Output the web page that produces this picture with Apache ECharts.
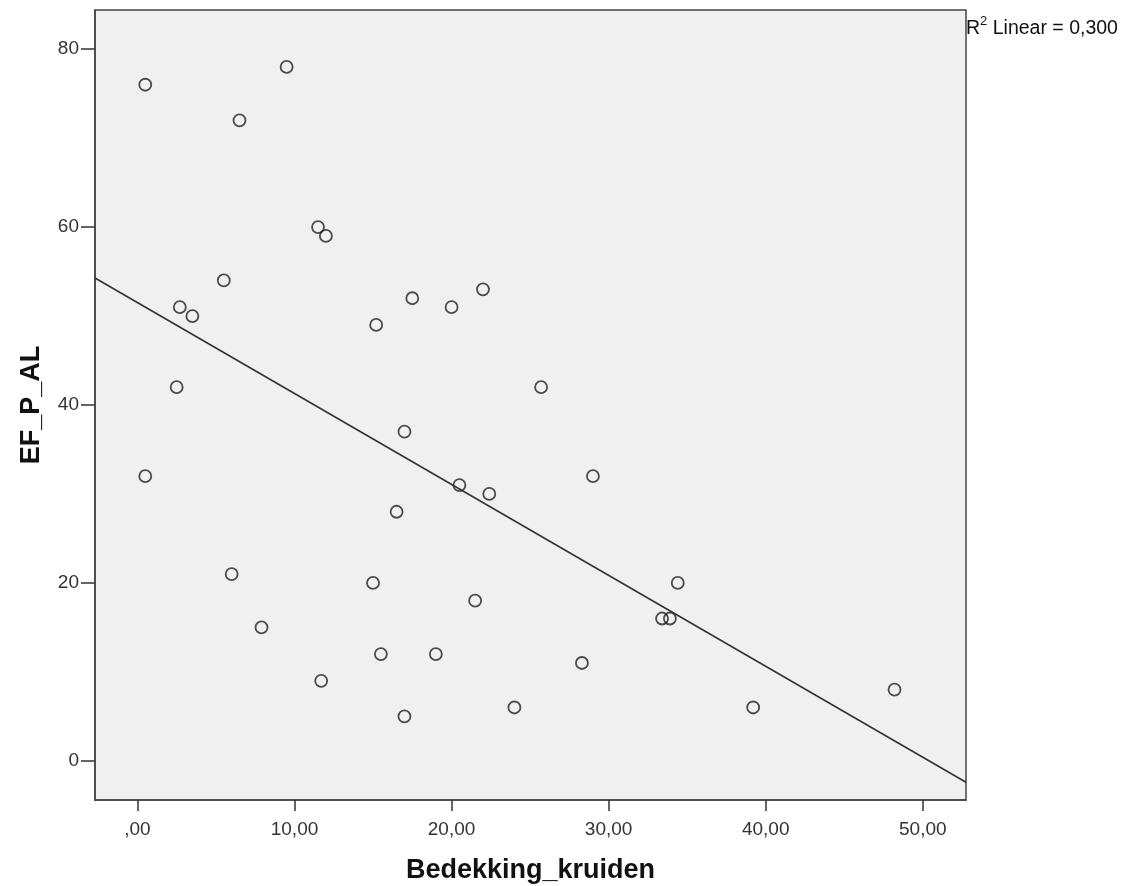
<!DOCTYPE html>
<html>
<head>
<meta charset="utf-8">
<script src="https://cdn.jsdelivr.net/npm/echarts@6/dist/echarts.min.js"></script>
<style>html,body{margin:0;padding:0;background:#fff}#c{width:1128px;height:886px}</style>
</head>
<body>
<div id="c"></div>
<script>
// Bedekking_kruiden (x) values
var bedekking = [0.5, 9.5, 6.5, 11.5, 12.0, 5.5, 2.7, 3.5, 15.2, 17.5, 20.0, 22.0, 25.7, 2.5, 17.0, 0.5, 20.5, 22.4, 29.0, 16.5, 6.0, 15.0, 21.5, 34.4, 33.4, 33.9, 7.9, 15.5, 19.0, 28.3, 11.7, 17.0, 24.0, 39.2, 48.2];
// EF_P_AL (y) values
var efpal = [76, 78, 72, 60, 59, 54, 51, 50, 49, 52, 51, 53, 42, 42, 37, 32, 31, 30, 32, 28, 21, 20, 18, 20, 16, 16, 15, 12, 12, 11, 9, 5, 6, 6, 8];
var xTicks = [0, 10, 20, 30, 40, 50];
var yTicks = [0, 20, 40, 60, 80];
var xMin = -2.7, xMax = 52.75;
var yMin = -4.4, yMax = 84.4;
var r2Label = '0,300';

// least-squares fit
var n = bedekking.length, mx = 0, my = 0;
for (var i = 0; i < n; i++) { mx += bedekking[i]; my += efpal[i]; }
mx /= n; my /= n;
var sxy = 0, sxx = 0;
for (var i = 0; i < n; i++) { sxy += (bedekking[i]-mx)*(efpal[i]-my); sxx += (bedekking[i]-mx)*(bedekking[i]-mx); }
var slope = sxy / sxx, intercept = my - slope * mx;

var pts = bedekking.map(function (x, i) { return [x, efpal[i]]; });
var fit = [[xMin, intercept + slope * xMin], [xMax, intercept + slope * xMax]];

function fmtX(v) {
  var s = v.toFixed(2).replace('.', ',');
  if (s.indexOf('0,') === 0) s = s.substring(1);
  return s;
}
var FONT = '"Liberation Sans", Arial, sans-serif';
var chart = echarts.init(document.getElementById('c'), null, {renderer: 'canvas'});
chart.setOption({
  animation: false,
  backgroundColor: '#ffffff',
  title: {
    text: '{a|R}{b|2}{a| Linear = ' + r2Label + '}',
    left: 966, top: 15, padding: 0,
    textStyle: {
      fontWeight: 'normal',
      rich: {
        a: {fontSize: 19.5, fontWeight: 'normal', fontFamily: FONT, color: '#111', lineHeight: 24, verticalAlign: 'bottom'},
        b: {fontSize: 13, fontWeight: 'normal', fontFamily: FONT, color: '#111', lineHeight: 13, verticalAlign: 'top'}
      }
    }
  },
  grid: {left: 95, right: 162, top: 10, bottom: 86, outerBoundsMode: 'none', containLabel: false, show: true, backgroundColor: '#f0f0f0', borderColor: '#444', borderWidth: 1.5},
  xAxis: {
    type: 'value', min: xMin, max: xMax,
    name: 'Bedekking_kruiden', nameLocation: 'middle', nameGap: 57,
    nameTextStyle: {fontSize: 27, fontWeight: 'bold', fontFamily: FONT, color: '#111'},
    axisLine: {show: true, onZero: false, lineStyle: {color: '#444', width: 1.5}},
    axisTick: {show: true, length: 11, customValues: xTicks, lineStyle: {color: '#333', width: 1.5}},
    axisLabel: {customValues: xTicks, margin: 20, fontSize: 19, fontFamily: FONT, color: '#333', formatter: fmtX},
    splitLine: {show: false}
  },
  yAxis: {
    type: 'value', min: yMin, max: yMax,
    name: 'EF_P_AL', nameLocation: 'middle', nameGap: 50, nameRotate: 90,
    nameTextStyle: {fontSize: 27, fontWeight: 'bold', fontFamily: FONT, color: '#111'},
    axisLine: {show: true, onZero: false, lineStyle: {color: '#444', width: 1.5}},
    axisTick: {show: true, length: 14, customValues: yTicks, lineStyle: {color: '#333', width: 1.5}},
    axisLabel: {customValues: yTicks, margin: 16, fontSize: 19, fontFamily: FONT, color: '#333'},
    splitLine: {show: false}
  },
  series: [
    {
      type: 'line', data: fit, symbol: 'none', silent: true,
      lineStyle: {color: '#333', width: 1.6}
    },
    {
      type: 'scatter', data: pts, symbol: 'circle', symbolSize: 12,
      itemStyle: {color: 'rgba(0,0,0,0)', borderColor: '#222', borderWidth: 1.8}
    }
  ]
});
</script>
</body>
</html>
